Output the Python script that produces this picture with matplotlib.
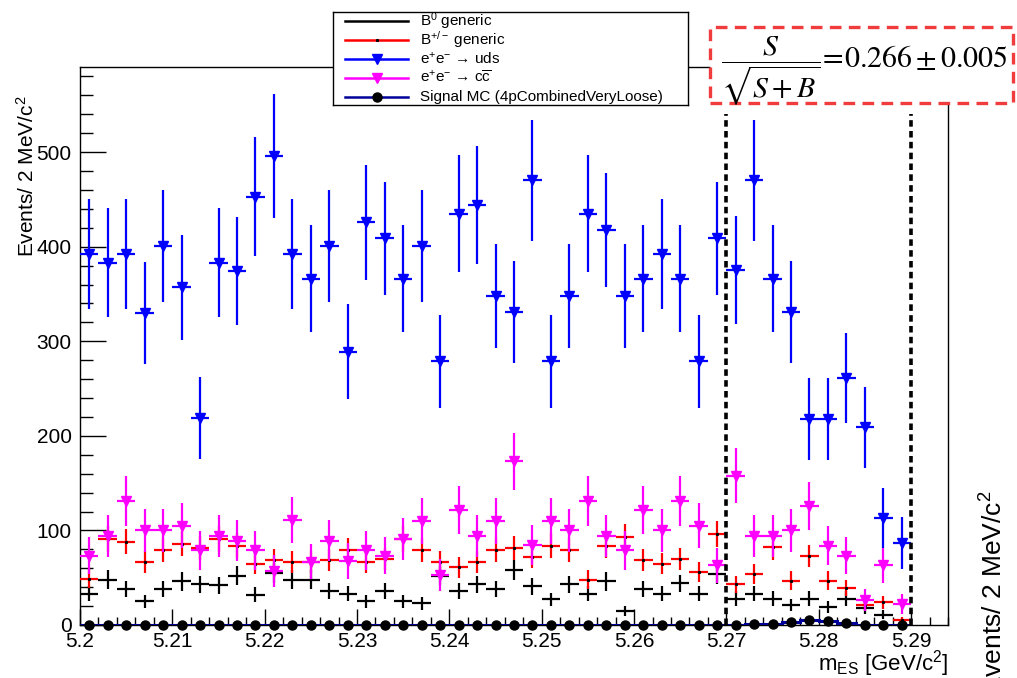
"""
m_ES distributions of the generic backgrounds and signal MC, with the
signal-region cut and the resulting figure of merit.
"""

import matplotlib

matplotlib.use("Agg")
import matplotlib.pyplot as plt
import numpy as np
from matplotlib.lines import Line2D
from matplotlib.patches import Rectangle
from matplotlib.ticker import FuncFormatter, MultipleLocator

plt.rcParams["font.family"] = ["Liberation Sans", "DejaVu Sans"]
plt.rcParams["mathtext.fontset"] = "custom"
plt.rcParams["mathtext.rm"] = "Liberation Sans"
plt.rcParams["mathtext.it"] = "Liberation Sans:italic"
plt.rcParams["mathtext.bf"] = "Liberation Sans:bold"

# 2 MeV bins over 5.20-5.29 GeV
MES_LO, MES_HI, N_BINS = 5.20, 5.29, 45

b0_generic = [33, 48, 38, 25, 38, 46, 43, 42, 52, 32, 55, 48, 48, 36, 33,
              25, 36, 25, 23, 52, 36, 43, 38, 58, 41, 27, 43, 33, 46, 15,
              38, 33, 44, 33, 54, 28, 33, 28, 21, 28, 19, 28, 18, 11, 0]
bpm_generic = [49, 91, 88, 67, 79, 86, 81, 91, 84, 65, 69, 67, 67, 69, 79,
               67, 70, 91, 79, 67, 61, 67, 79, 81, 72, 84, 79, 48, 84, 93,
               69, 65, 70, 56, 96, 43, 54, 82, 47, 73, 47, 39, 21, 24, 5]
uds = [392, 383, 392, 330, 401, 357, 219, 383, 374, 453, 496, 392, 366, 401, 289,
       426, 409, 366, 401, 279, 435, 444, 348, 331, 470, 279, 348, 435, 418, 348,
       366, 392, 366, 279, 409, 375, 470, 366, 331, 218, 218, 261, 209, 113, 87]
ccbar = [73, 94, 131, 100, 100, 105, 79, 94, 89, 79, 57, 111, 67, 89, 68,
         79, 73, 91, 110, 53, 122, 94, 110, 173, 85, 110, 100, 131, 94, 79,
         122, 100, 131, 105, 63, 158, 94, 94, 100, 126, 84, 73, 26, 63, 22]
signal = [0, 0, 0, 0, 0, 0, 0, 0, 0, 0, 0, 0, 0, 0, 0,
          0, 0, 0, 0, 0, 0, 0, 0, 0, 0, 0, 0, 0, 0, 0,
          0, 0, 0, 0, 0, 0.3, 0.8, 1.5, 3.2, 5.0, 4.5, 2.5, 0.5, 0.2, 0]

# per-event MC weights (luminosity scaling), used for the sqrt(sum w^2) errors
W_B0, W_BPM, W_UDS, W_CC = 2.0, 2.0, 8.7, 5.25

CUT_LO, CUT_HI = 5.27, 5.29
FOM, FOM_ERR = 0.266, 0.005

NAVY = "#000099"
MAGENTA = "#ff00ff"

edges = np.linspace(MES_LO, MES_HI, N_BINS + 1)
centers = 0.5 * (edges[:-1] + edges[1:])
half_w = 0.5 * (edges[1] - edges[0])

W, H = 1017, 678
fig = plt.figure(figsize=(W / 100, H / 100), dpi=100)
ax = fig.add_axes([80 / W, 53 / H, (948 - 80) / W, (625 - 67) / H])


def draw_hist(values, weight, color, marker=None, zorder=2):
    y = np.asarray(values, dtype=float)
    keep = y > 0
    err = np.sqrt(weight * y)
    ax.errorbar(centers[keep], y[keep], xerr=half_w, yerr=err[keep],
                fmt=marker if marker else "none", color=color, ecolor=color,
                elinewidth=1.6, ms=7.5, mec=color, mfc=color, capsize=0,
                zorder=zorder)


draw_hist(b0_generic, W_B0, "black", zorder=2)
draw_hist(bpm_generic, W_BPM, "red", zorder=3)
ax.plot(centers, bpm_generic, "s", ms=1.2, color="black", zorder=3.5)
draw_hist(uds, W_UDS, "blue", marker="v", zorder=4)
draw_hist(ccbar, W_CC, MAGENTA, marker="v", zorder=5)
ax.stairs(signal, edges, color=NAVY, lw=2.2, zorder=6)
ax.plot(centers, signal, "o", ms=6.5, color="black", zorder=7, clip_on=False)

ax.vlines([CUT_LO, CUT_HI], 0, 540, colors="black", lw=2.6,
          linestyles=(0, (1.8, 1.2)), zorder=8)

ax.set_xlim(MES_LO, 5.294)
ax.set_ylim(0, 590)
ax.xaxis.set_major_locator(MultipleLocator(0.01))
ax.xaxis.set_minor_locator(MultipleLocator(0.002))
ax.yaxis.set_major_locator(MultipleLocator(100))
ax.yaxis.set_minor_locator(MultipleLocator(20))
ax.xaxis.set_major_formatter(FuncFormatter(lambda v, _: f"{v:g}"))
ax.tick_params(which="both", direction="in", top=False, right=False,
               width=1.0, labelsize=15)
ax.tick_params(axis="x", which="major", length=11.5, pad=5)
ax.tick_params(axis="x", which="minor", length=6)
ax.tick_params(axis="y", which="major", length=18.5, pad=6)
ax.tick_params(axis="y", which="minor", length=9.5)
for sp in ax.spines.values():
    sp.set_linewidth(1.0)

fig.text(27 / W, 1 - 95 / H, "Events/ 2 MeV/c$^{2}$", rotation=90,
         ha="center", va="top", fontsize=15)
fig.text(948 / W, 1 - 664 / H, r"m$_{\mathrm{ES}}$ [GeV/c$^{2}$]",
         ha="right", va="center", fontsize=16)
fig.text(994 / W, 1 - 490 / H, "Events/ 2 MeV/c$^{2}$", rotation=90,
         ha="center", va="top", fontsize=19)

# legend box
leg = fig.add_axes([333 / W, 1 - 105 / H, (688 - 333) / W, (105 - 12) / H])
leg.set_xlim(0, 355)
leg.set_ylim(93, 0)
leg.set_xticks([])
leg.set_yticks([])
for sp in leg.spines.values():
    sp.set_linewidth(1.0)
entries = [
    ("black", "black", None, r"B$^{0}$ generic"),
    ("red", "black", "s", r"B$^{+/-}$ generic"),
    ("blue", "blue", "v", r"e$^{+}$e$^{-}$ → uds"),
    (MAGENTA, MAGENTA, "v", r"e$^{+}$e$^{-}$ → c$\overline{\mathrm{c}}$"),
    (NAVY, "black", "o", "Signal MC (4pCombinedVeryLoose)"),
]
for i, (lc, mc, mk, label) in enumerate(entries):
    yy = 9 + 19 * i
    leg.add_line(Line2D([12, 75], [yy, yy], color=lc, lw=1.8))
    if mk == "s":
        leg.plot(43.5, yy, "s", ms=1.2, color=mc)
    elif mk:
        leg.plot(43.5, yy, mk, ms=7.5 if mk == "v" else 6.5, color=mc)
    leg.text(87, yy, label, ha="left", va="center", fontsize=11)

# figure of merit box
fig.add_artist(Rectangle((710 / W, 1 - 103 / H), (1013 - 710) / W, (103 - 27) / H,
                         transform=fig.transFigure, facecolor="white",
                         edgecolor="#f03c3c", lw=2.4, ls=(0, (3.5, 2.2))))
fig.text(864 / W, 1 - 71 / H,
         r"$\dfrac{S}{\sqrt{S+B}}\!=\!%.3f\pm%.3f$" % (FOM, FOM_ERR),
         ha="center", va="center", fontsize=21.5, math_fontfamily="stix")

fig.savefig("out.png", dpi=100)
